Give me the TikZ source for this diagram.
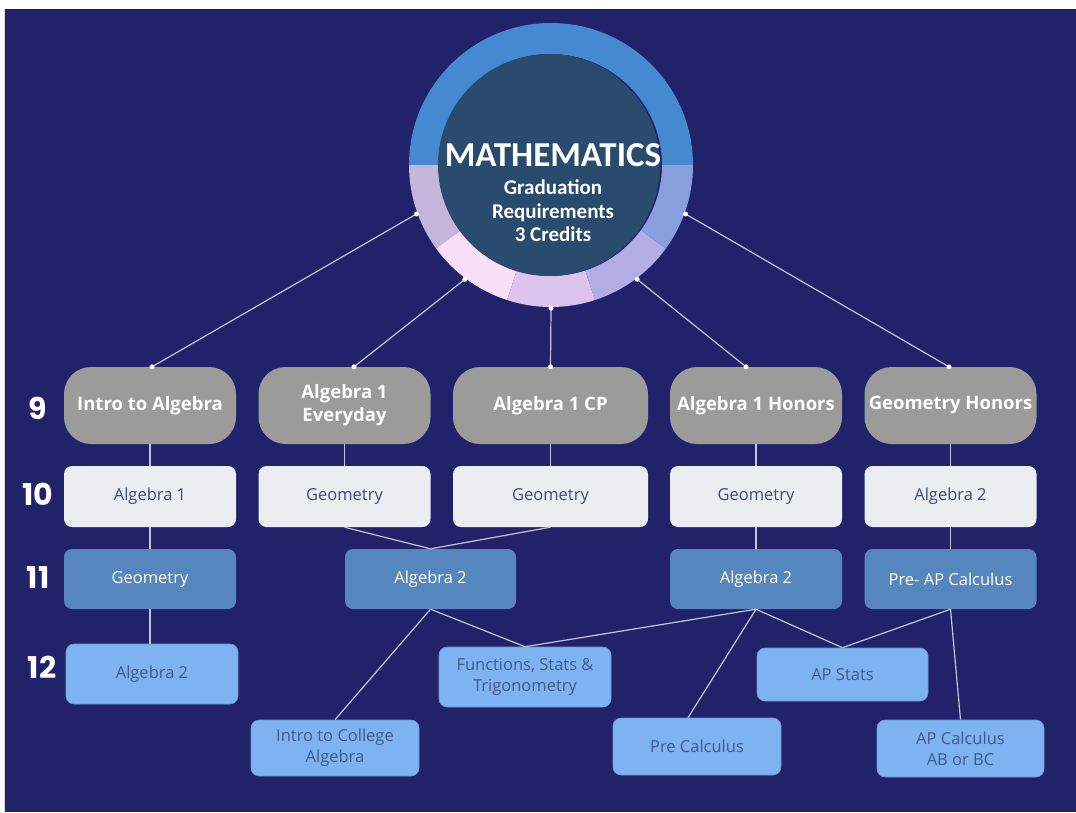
\documentclass[tikz,border=0pt]{standalone}
\usepackage{fontspec}
\setmainfont{Open Sans}
\newfontfamily\circfont{Carlito}
\newfontfamily\gradefont{Poppins}
\definecolor{bgc}{HTML}{22226A}
\definecolor{ringtop}{HTML}{4589D1}
\definecolor{segA}{HTML}{C4B6DA}
\definecolor{segB}{HTML}{FADFFB}
\definecolor{segC}{HTML}{DCC4EF}
\definecolor{segD}{HTML}{B3ADE6}
\definecolor{segE}{HTML}{899FDD}
\definecolor{innerc}{HTML}{284B6E}
\definecolor{grayc}{HTML}{9B9C99}
\definecolor{whitec}{HTML}{EBEEF0}
\definecolor{wtext}{HTML}{3C4A7C}
\definecolor{midc}{HTML}{5586BD}
\definecolor{lightc}{HTML}{7DB3F1}
\definecolor{ltext}{HTML}{3E5B8D}
\definecolor{linec}{HTML}{C4C4D6}
\begin{document}
\begin{tikzpicture}[x=1pt,y=-1pt,
  gbox/.style={fill=grayc, rounded corners=27pt, minimum width=172pt, minimum height=77pt, text=white, font=\bfseries\fontsize{18.5}{23}\selectfont, align=center, inner sep=1pt},
  wbox/.style={fill=whitec, rounded corners=8pt, minimum width=172pt, minimum height=61pt, text=wtext, font=\fontsize{16.5}{20}\selectfont, inner sep=2pt},
  mbox/.style={fill=midc, rounded corners=8pt, minimum width=172pt, minimum height=60pt, text=white, font=\fontsize{16.5}{20}\selectfont, inner sep=2pt},
  lbox/.style={fill=lightc, draw=lightc!85!black, line width=0.6pt, rounded corners=8pt, text=ltext, font=\fontsize{16.5}{21}\selectfont, align=center, inner sep=2pt},
  link/.style={draw=linec, line width=1.2pt},
  jdot/.style={circle, fill=white, inner sep=0pt, minimum size=5pt},
  grade/.style={text=white, font=\gradefont\bfseries\fontsize{30}{30}\selectfont},
]
\useasboundingbox (0,0) rectangle (1076,812);
\fill[white] (0,0) rectangle (1076,812);
\fill[bgc] (5,9) rectangle (1076,812);
\draw[black!15, line width=0.8pt] (4.6,9) -- (4.6,812);

% ring
\begin{scope}[shift={(551,165)}, yscale=-1]
  \fill[ringtop] (0:142) arc[start angle=0, end angle=180, radius=142] -- (180:111) arc[start angle=180, end angle=0, radius=111] -- cycle;
  \fill[segA] (180:142) arc[start angle=180, end angle=216, radius=142] -- (216:111) arc[start angle=216, end angle=180, radius=111] -- cycle;
  \fill[segB] (216:142) arc[start angle=216, end angle=252, radius=142] -- (252:111) arc[start angle=252, end angle=216, radius=111] -- cycle;
  \fill[segC] (252:142) arc[start angle=252, end angle=288, radius=142] -- (288:111) arc[start angle=288, end angle=252, radius=111] -- cycle;
  \fill[segD] (288:142) arc[start angle=288, end angle=324, radius=142] -- (324:111) arc[start angle=324, end angle=288, radius=111] -- cycle;
  \fill[segE] (324:142) arc[start angle=324, end angle=360, radius=142] -- (360:111) arc[start angle=360, end angle=324, radius=111] -- cycle;
  \fill[innerc] (-2,0) circle[radius=111];
\end{scope}
\node[circle, minimum size=286pt, inner sep=0pt] (mathc) at (551,165) {};
\node[text=white, font=\circfont\bfseries\fontsize{35}{36}\selectfont] (mtitle) at (553,155) {MATHEMATICS};
\node[text=white, font=\circfont\bfseries\fontsize{21}{23.5}\selectfont, align=center] (msub) at (553,211) {Graduation\\Requirements\\3 Credits};

% grade labels
\node[grade] (g9) at (38,408) {9};
\node[grade] (g10) at (38,494) {10};
\node[grade] (g11) at (38,578) {11};
\node[grade] (g12) at (42,667) {12};

% boxes
\node[gbox] (a1) at (150,405.5) {Intro to Algebra};
\node[gbox] (a2) at (344.5,405.5) {Algebra 1\\Everyday};
\node[gbox, minimum width=195pt] (a3) at (550.5,405.5) {Algebra 1 CP};
\node[gbox] (a4) at (756,405.5) {Algebra 1 Honors};
\node[gbox] (a5) at (950.5,405.5) {Geometry Honors};

\node[wbox] (b1) at (150,496.5) {Algebra 1};
\node[wbox] (b2) at (344.5,496.5) {Geometry};
\node[wbox, minimum width=195pt] (b3) at (550.5,496.5) {Geometry};
\node[wbox] (b4) at (756,496.5) {Geometry};
\node[wbox] (b5) at (950.5,496.5) {Algebra 2};

\node[mbox] (c1) at (150,579) {Geometry};
\node[mbox, minimum width=171pt] (c2) at (430.5,579) {Algebra 2};
\node[mbox] (c4) at (756,579) {Algebra 2};
\node[mbox] (c5) at (950.5,579) {Pre- AP Calculus};

\node[lbox, minimum width=172pt, minimum height=60pt] (d1) at (152,674) {Algebra 2};
\node[lbox, minimum width=172pt, minimum height=60pt] (d2) at (525,677) {Functions, Stats \&\\Trigonometry};
\node[lbox, minimum width=171pt, minimum height=53pt] (d3) at (842.5,674.5) {AP Stats};
\node[lbox, minimum width=168pt, minimum height=56pt] (d4) at (335,748) {Intro to College\\Algebra};
\node[lbox, minimum width=168pt, minimum height=57pt] (d5) at (697,746.5) {Pre Calculus};
\node[lbox, minimum width=167pt, minimum height=57pt] (d6) at (960.5,748.5) {AP Calculus\\AB or BC};

% connectors
\coordinate (t1) at ([xshift=2pt]a1.north);
\coordinate (t2) at ([xshift=9.5pt]a2.north);
\coordinate (t3) at (a3.north);
\coordinate (t4) at ([xshift=-10pt]a4.north);
\coordinate (t5) at ([xshift=-1.5pt]a5.north);
\coordinate (p5) at ([xshift=-9pt]d5.north);

\draw[link] (mathc.200) -- (t1);
\draw[link] (mathc.233) -- (t2);
\draw[link] (mathc.270) -- (t3);
\draw[link] (mathc.307) -- (t4);
\draw[link] (mathc.340) -- (t5);

\draw[link] (a1) -- (b1); \draw[link] (b1) -- (c1); \draw[link] (c1.south) -- (d1.north -| c1.south);
\draw[link] (a2) -- (b2); \draw[link] (b2.south) -- (c2.north); \draw[link] (a3) -- (b3); \draw[link] (b3.south) -- (c2.north);
\draw[link] (c2.south) -- (d4.north); \draw[link] (c2.south) -- (d2.north);
\draw[link] (a4) -- (b4); \draw[link] (b4) -- (c4);
\draw[link] (c4.south) -- (d2.north); \draw[link] (c4.south) -- (p5); \draw[link] (c4.south) -- (d3.north);
\draw[link] (a5) -- (b5); \draw[link] (b5) -- (c5);
\draw[link] (c5.south) -- (d3.north); \draw[link] (c5.south) -- (d6.north);

% dots
\foreach \a in {200,233,270,307,340} \node[jdot] at (mathc.\a) {};
\foreach \t in {t1,t2,t3,t4,t5} \node[jdot] at (\t) {};
\end{tikzpicture}
\end{document}
